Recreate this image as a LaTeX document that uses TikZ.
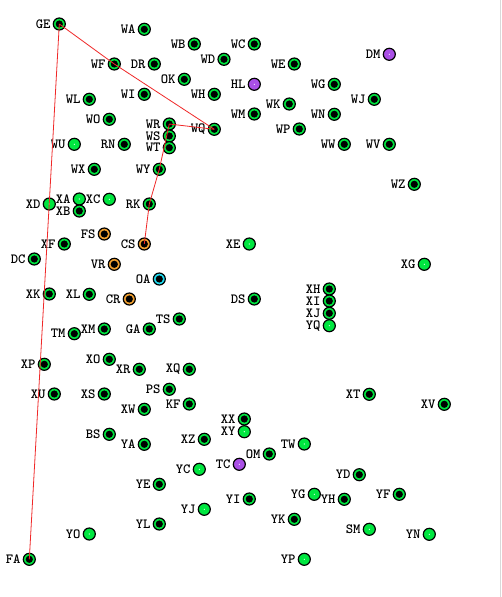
\documentclass[tikz,border=0pt]{standalone}
\definecolor{ngreen}{RGB}{0,230,64}
\definecolor{npurple}{RGB}{170,80,230}
\definecolor{norange}{RGB}{240,160,48}
\definecolor{ncyan}{RGB}{32,220,240}
\definecolor{edgered}{RGB}{240,40,40}
\tikzset{
  nbase/.style={circle, draw=black, line width=1.2pt, minimum size=12pt, inner sep=0pt},
  blackdot/.style={path picture={\fill[black] (path picture bounding box.center) circle (3.6pt);}},
  whitedot/.style={path picture={\fill[white] (path picture bounding box.center) circle (0.6pt);}},
  nd/.style={nbase, fill=ngreen, blackdot},
  ng/.style={nbase, fill=ngreen, whitedot},
  np/.style={nbase, fill=npurple, whitedot},
  no/.style={nbase, fill=norange, blackdot},
  nc/.style={nbase, fill=ncyan, blackdot},
  lab/.style={anchor=east, inner sep=0pt, font=\ttfamily\bfseries\fontsize{14}{14}\selectfont},
  edge/.style={draw=edgered, line width=0.8pt}
}
\begin{document}
\begin{tikzpicture}[x=1pt,y=-1pt]
\fill[white] (0,0) rectangle (501,597);
\useasboundingbox (0,0) rectangle (501,597);
\draw[black!15, line width=1pt] (500,0) -- (500,597);
\foreach \n/\x/\y/\t in {
GE/59.3/24/d, WA/144.3/29.3/d, WB/194.3/44/d, WC/254.3/44/d, WD/224/59.3/d,
WF/114.3/64/d, DR/154.3/64/d, WE/294.3/64/d, DM/389.3/54.3/p, OK/184.3/79.3/d,
HL/254.3/84.3/p, WG/334.3/84.3/d, WH/214.3/94.3/d, WI/144.3/94.3/d, WJ/374.3/99.3/d,
WL/89.3/99.3/d, WK/289.3/104/d, WM/254.3/114/d, WN/334.3/114.3/d, WO/109.3/119.3/d,
WP/299.3/129/d, WR/169.3/124/d, WQ/214.3/129.3/d, WS/169.3/136/d, WT/169.3/147.7/d,
WU/74.3/144.3/g, RN/124.3/144.3/d, WW/344.3/144.3/d, WV/389.3/144.3/d, WX/94.3/169.3/d,
WY/159.3/169.3/d, WZ/414.3/184.3/d, XD/49.3/204/g, XA/79.3/199/g, XC/109.3/199.3/g,
XB/79.3/211/d, RK/149.3/204/d, FS/104.3/234/o, CS/144.3/244/o, XF/64.3/244/d,
XE/249.3/244/g, DC/34.3/259/d, XG/424.3/264.3/g, VR/114.3/264.3/o, OA/159.3/279/c,
XK/49.3/294/d, XL/89.3/294.3/d, CR/129.3/299/o, DS/254.3/299/d, XH/329.3/289/d,
XI/329.3/301/d, XJ/329.3/313.3/d, YQ/329.3/325.7/g, TS/179.3/319/d, GA/149.3/329/d,
XM/104.3/329/d, TM/74.3/333.7/d, XP/44.3/364.3/d, XO/109.3/359.3/d, XR/139.3/369.3/d,
XQ/189.3/369.3/d, PS/169.3/389.3/d, XU/54.3/394/d, XS/104.3/394/d, XT/369.3/394.3/d,
XV/444.3/404.3/d, XW/144.3/409.3/d, KF/189.3/404/d, XX/244.3/419/d, XY/244.3/431.7/g,
BS/109.3/434.3/d, YA/144.3/444.3/d, XZ/204.3/439.3/d, TW/304.3/444/g, OM/269.3/454/d,
TC/239.3/464.3/p, YC/199.3/469.3/g, YD/359.3/474.7/d, YE/159.3/484.3/d, YG/314.3/494.3/g,
YH/344.3/499.3/d, YF/399.3/494.3/d, YI/249.3/499/d, YJ/204.3/509.3/g, YK/294.3/519.3/d,
YL/159.3/524/d, SM/369.3/529.3/g, YN/429.3/534.3/g, YO/89.3/534/g, YP/304.3/559.3/g,
FA/29.3/559.3/d}
{
  \node[n\t] (\n) at (\x,\y) {};
  \node[lab] (\n-l) at ([xshift=-2pt]\n.west) {\n};
}
\draw[edge] (GE.center) -- (FA.center);
\draw[edge] (GE.center) -- (WF.center) -- (WQ.center);
\draw[edge] (WQ.center) -- (WR.center);
\draw[edge] (WR.center) -- (WY.center) -- (RK.center) -- (CS.center);
\end{tikzpicture}
\end{document}
